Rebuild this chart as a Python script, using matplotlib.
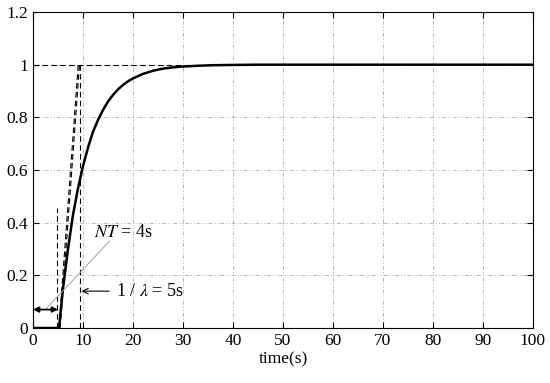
import matplotlib
matplotlib.use('Agg')
import matplotlib.pyplot as plt

# step response
t = [0, 5.2, 6, 7, 8, 9, 10, 11, 12, 13, 14, 15, 16, 17, 18, 19, 20,
     22, 24, 26, 28, 30, 33, 36, 40, 45, 100]
y = [0, 0, 0.15, 0.30, 0.43, 0.53, 0.615, 0.685, 0.745, 0.79, 0.828, 0.86,
     0.885, 0.906, 0.923, 0.937, 0.948, 0.965, 0.977, 0.985, 0.99, 0.993,
     0.996, 0.998, 0.999, 1.0, 1.0]

# construction lines (dashed)
delay_x = [4.9, 4.9]
delay_y = [0, 0.455]
tang1_x = [5.2, 9.05]
tang1_y = [0, 1]
tang2_x = [5.45, 9.3]
tang2_y = [0, 1]
tau_x = [9.5, 9.5]
tau_y = [0, 1]
ref_x = [0, 32]
ref_y = [1, 1]

xticks = [0, 10, 20, 30, 40, 50, 60, 70, 80, 90, 100]
yticks = [0, 0.2, 0.4, 0.6, 0.8, 1.0, 1.2]
yticklabels = ['0', '0.2', '0.4', '0.6', '0.8', '1', '1.2']

plt.rcParams['font.family'] = ['Liberation Serif', 'DejaVu Serif']
plt.rcParams['mathtext.fontset'] = 'stix'

fig = plt.figure(figsize=(5.5, 3.83), dpi=100)
ax = fig.add_axes([0.06, 0.1436, 0.909, 0.825])

ax.grid(True, color='#b8b8b8', linestyle=(0, (4, 2, 1, 2, 1, 2)), linewidth=0.7)
ax.set_axisbelow(True)

dash = dict(color='black', linestyle=(0, (5, 3)), linewidth=0.8)
ax.plot(ref_x, ref_y, **dash)
ax.plot(delay_x, delay_y, **dash)
ax.plot(tang1_x, tang1_y, **dash)
ax.plot(tang2_x, tang2_y, **dash)
ax.plot(tau_x, tau_y, **dash)

ax.plot(t, y, color='black', linewidth=1.8)

# NT = 4s double arrow and label
ax.annotate('', xy=(0, 0.07), xytext=(5, 0.07),
            arrowprops=dict(arrowstyle='<|-|>', color='black', lw=1.3,
                            mutation_scale=8, shrinkA=0, shrinkB=0))
ax.plot([2.7, 15.3], [0.075, 0.33], color='#a0a0a0', linewidth=0.7)
ax.text(12.2, 0.345, r'$NT$ = 4s', fontsize=13)

# 1/lambda = 5s label
ax.annotate(r'1 / $\lambda$ = 5s', xy=(9.7, 0.14), xytext=(16.6, 0.14),
            fontsize=13, va='center',
            arrowprops=dict(arrowstyle='->', color='black', lw=0.8,
                            mutation_scale=10, shrinkA=3, shrinkB=0))

ax.set_xlim(0, 100)
ax.set_ylim(0, 1.2)
ax.set_xticks(xticks)
ax.set_yticks(yticks)
ax.set_yticklabels(yticklabels)
ax.tick_params(direction='in', top=True, right=True, labelsize=12.5, length=4)
for s in ax.spines.values():
    s.set_linewidth(0.8)
ax.set_xlabel('time(s)', fontsize=12.5, labelpad=2)

fig.savefig('out.png', dpi=100)
